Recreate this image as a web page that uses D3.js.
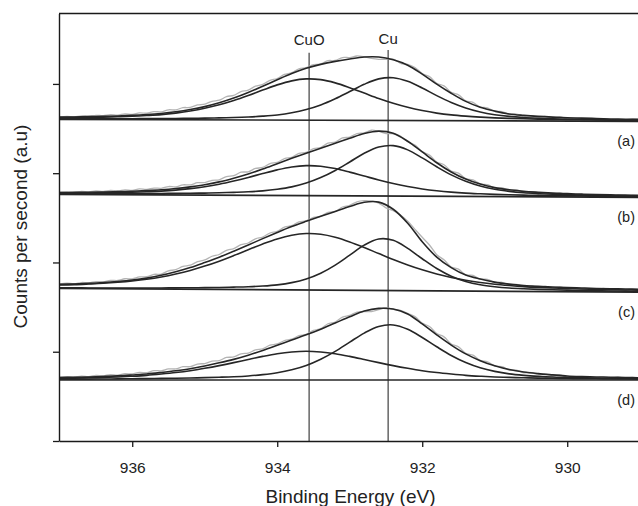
<!DOCTYPE html>
<html><head><meta charset="utf-8">
<script src="https://cdn.jsdelivr.net/npm/d3@7"></script>
<style>
body{margin:0;background:#fff;}
svg{display:block;font-family:"Liberation Sans",Arial,Helvetica,sans-serif;}
</style>
</head><body>
<svg id="chart" width="638" height="506"></svg>
<script>
// ---------- DATA ----------
// Binding energy grid (eV) for the fitted curves
const energy = [937.0,936.8,936.6,936.4,936.2,936.0,935.8,935.6,935.4,935.2,935.0,934.8,934.6,934.4,934.2,934.0,933.8,933.6,933.4,933.2,933.0,932.8,932.6,932.4,932.2,932.0,931.8,931.6,931.4,931.2,931.0,930.8,930.6,930.4,930.2,930.0,929.8,929.6,929.4,929.2,929.0];
// Binding energy grid (eV) for the raw (grey) spectra
const rawEnergy = [937.0,936.9,936.8,936.7,936.6,936.5,936.4,936.3,936.2,936.1,936.0,935.9,935.8,935.7,935.6,935.5,935.4,935.3,935.2,935.1,935.0,934.9,934.8,934.7,934.6,934.5,934.4,934.3,934.2,934.1,934.0,933.9,933.8,933.7,933.6,933.5,933.4,933.3,933.2,933.1,933.0,932.9,932.8,932.7,932.6,932.5,932.4,932.3,932.2,932.1,932.0,931.9,931.8,931.7,931.6,931.5,931.4,931.3,931.2,931.1,931.0,930.9,930.8,930.7,930.6,930.5,930.4,930.3,930.2,930.1,930.0,929.9,929.8,929.7,929.6,929.5,929.4,929.3,929.2,929.1,929.0];

const panelLabels = ["(a)","(b)","(c)","(d)"];
// background (baseline) level of each spectrum at 937 eV and at 929 eV (counts, a.u.)
const bgStart = [324.3, 248.7, 153.9, 61.5];
const bgEnd   = [322.3, 245.7, 150.0, 61.5];

// Component / envelope heights above the background (counts, a.u.)
const cuoA = [1.6,1.8,2.1,2.4,2.8,3.3,4.1,5.1,6.7,8.8,11.6,15.2,19.6,24.7,30.2,35.5,39.6,41.6,40.9,37.7,32.9,27.5,22.1,17.3,13.3,10.1,7.6,5.8,4.6,3.7,3.0,2.5,2.2,1.9,1.7,1.5,1.4,1.3,1.1,1.0,1.0];
const cuA  = [0.6,0.6,0.7,0.8,0.8,0.9,1.0,1.2,1.3,1.5,1.7,2.0,2.4,3.0,3.9,5.2,7.4,10.7,15.4,21.7,29.0,36.4,41.9,43.1,39.5,32.8,25.2,18.4,12.9,8.9,6.2,4.5,3.4,2.7,2.2,1.9,1.6,1.4,1.2,1.1,1.0];
const envA = [2.2,2.4,2.8,3.2,3.6,4.2,5.1,6.3,8.0,10.3,13.3,17.2,22.0,27.7,34.1,40.7,47.0,52.3,56.3,59.4,61.9,63.9,64.0,61.2,55.8,46.9,36.8,27.6,19.5,13.6,9.8,7.0,5.6,4.6,3.9,3.4,3.0,2.7,2.3,2.1,2.0];
const rawA = [2.5,3.1,2.6,3.6,3.3,4.2,3.8,4.9,4.5,5.7,5.3,6.7,6.5,8.1,7.9,10.0,9.9,12.2,12.5,15.0,15.8,18.7,19.8,23.4,24.8,28.5,30.1,34.1,35.9,40.0,41.9,46.1,47.8,51.7,52.9,56.1,56.7,60.1,60.3,63.3,63.3,64.9,64.1,62.5,61.6,61.6,61.8,57.7,56.6,53.4,47.4,44.3,37.6,35.0,28.6,26.1,20.1,18.6,13.8,13.1,9.6,9.4,6.6,6.9,5.0,5.4,3.8,4.5,3.0,4.1,2.2,2.9,1.4,2.4,1.7,2.6,1.5,2.5,1.6,2.3,1.7];

const cuoB = [1.2,1.3,1.5,1.7,2.0,2.4,3.0,3.7,4.8,6.4,8.4,11.0,14.3,18.0,22.0,25.8,28.8,30.2,29.7,27.4,23.9,20.0,16.1,12.6,9.7,7.3,5.5,4.2,3.3,2.7,2.2,1.9,1.6,1.4,1.2,1.1,1.0,0.9,0.8,0.8,0.7];
const cuB  = [0.7,0.7,0.8,0.9,1.0,1.1,1.2,1.4,1.6,1.8,2.0,2.4,2.9,3.5,4.5,6.2,8.7,12.6,18.2,25.5,34.1,42.9,49.3,50.8,46.6,38.6,29.7,21.6,15.2,10.5,7.3,5.3,4.0,3.2,2.6,2.2,1.9,1.7,1.5,1.3,1.2];
const envB = [1.9,2.0,2.3,2.6,3.0,3.5,4.2,5.1,6.4,8.2,10.4,13.4,17.2,21.5,26.5,32.0,37.5,42.8,47.9,52.9,58.0,62.9,65.4,63.4,55.3,44.6,33.8,24.6,17.5,12.5,9.0,6.9,5.4,4.5,3.8,3.3,2.9,2.6,2.3,2.1,1.9];
const rawB = [2.1,2.6,2.1,3.1,2.7,3.6,3.1,4.1,3.7,4.9,4.4,5.8,5.4,6.8,6.6,8.4,8.1,10.2,10.2,12.4,12.6,14.9,15.5,18.8,19.7,23.2,23.7,27.1,28.1,32.1,33.4,37.2,38.5,42.4,43.5,47.4,48.5,52.9,54.0,58.3,59.2,62.8,63.4,66.2,65.1,62.9,62.8,60.5,54.8,51.6,44.9,41.4,34.4,31.8,25.5,23.4,17.9,16.8,12.6,12.0,8.7,8.9,6.4,6.7,4.7,5.2,3.6,4.3,2.8,3.9,2.0,2.9,1.2,2.2,1.5,2.5,1.4,2.4,1.5,2.1,1.5];

const cuoC = [3.5,3.9,4.6,5.4,6.5,7.9,9.7,12.1,15.2,18.9,23.4,28.5,34.2,40.2,46.1,51.3,55.1,56.9,56.3,53.4,48.8,43.2,37.2,31.3,25.9,21.1,17.0,13.6,10.9,8.7,7.1,5.9,4.9,4.2,3.7,3.2,2.9,2.6,2.4,2.2,2.0];
const cuC  = [0.5,0.6,0.6,0.7,0.8,0.9,1.0,1.1,1.3,1.5,1.7,2.0,2.4,2.9,3.7,5.0,7.3,11.1,17.0,25.3,35.4,45.6,51.9,50.7,42.7,32.3,22.5,14.9,9.7,6.5,4.6,3.4,2.7,2.2,1.9,1.6,1.4,1.2,1.1,1.0,0.9];
const envC = [4.0,4.5,5.2,6.1,7.3,8.8,10.9,13.8,17.5,21.8,27.0,32.5,38.6,45.0,51.5,57.8,63.8,69.2,74.4,79.4,84.4,88.8,89.1,82.0,68.0,49.4,34.0,23.5,16.1,12.2,9.2,7.3,6.0,5.2,4.7,4.2,3.9,3.5,3.3,3.1,2.9];
const rawC = [4.4,5.2,4.8,6.0,5.8,7.1,6.9,8.4,8.3,10.1,10.1,12.0,12.3,14.7,15.0,18.4,19.6,23.0,24.2,27.9,29.6,33.4,35.2,39.5,41.2,45.2,47.0,51.3,53.0,57.2,58.9,63.2,64.7,68.6,69.7,73.2,74.4,78.4,79.4,83.9,85.7,89.3,90.4,90.1,88.1,83.4,80.5,76.3,70.0,61.9,53.9,46.2,36.5,31.3,24.2,22.0,16.4,15.9,12.2,12.0,8.8,9.1,6.7,7.1,5.2,5.8,4.2,5.2,3.6,4.8,2.8,3.8,2.4,3.3,2.3,3.5,2.4,3.4,2.5,3.1,2.6];

const cuoD = [1.7,1.9,2.2,2.6,3.1,3.8,4.7,6.0,7.5,9.4,11.8,14.5,17.5,20.7,23.8,26.5,28.3,29.0,28.3,26.5,23.8,20.7,17.5,14.5,11.8,9.4,7.5,6.0,4.7,3.8,3.1,2.6,2.2,1.9,1.7,1.5,1.3,1.2,1.1,1.0,0.9];
const cuD  = [0.8,0.9,0.9,1.0,1.1,1.3,1.4,1.6,1.8,2.0,2.4,2.8,3.3,4.1,5.4,7.3,10.3,14.7,21.0,28.9,38.2,47.3,54.0,55.5,51.1,42.9,33.5,24.7,17.6,12.3,8.7,6.2,4.7,3.7,3.0,2.6,2.2,1.9,1.7,1.5,1.3];
const envD = [2.5,2.8,3.1,3.6,4.2,5.1,6.1,7.6,9.3,11.4,14.2,17.3,20.8,25.0,29.8,35.0,40.3,45.5,51.2,57.5,63.8,69.5,72.2,71.5,66.5,56.5,45.5,35.2,26.3,19.5,14.3,10.5,8.0,6.4,5.2,4.1,3.5,3.1,2.8,2.5,2.2];
const rawD = [2.8,3.4,3.0,4.0,3.5,4.6,4.3,5.5,5.0,6.4,6.1,7.7,7.4,9.4,9.3,11.2,11.2,13.4,13.5,16.1,16.6,19.0,19.6,22.7,23.2,26.4,27.1,30.4,31.5,35.1,36.3,39.8,41.1,44.7,45.9,50.0,51.7,56.7,58.5,63.4,65.2,68.5,68.9,69.0,71.0,72.9,71.1,70.3,67.1,63.9,57.4,53.9,46.8,43.5,36.3,33.4,26.8,25.0,19.7,18.4,14.1,13.5,10.0,9.9,7.3,7.5,5.5,5.9,4.2,5.0,2.9,3.4,1.9,2.8,2.0,3.1,2.0,2.9,1.9,2.5,1.8];

// Reference lines (peak positions, eV) and their labels
const refEnergy = [933.56, 932.47];
const refLabels = ["CuO", "Cu"];
// Axes
const xTicks = [936, 934, 932, 930];
const yTicks = [0, 90, 180, 270, 360];
const xTitle = "Binding Energy (eV)";
const yTitle = "Counts per second (a.u)";

// ---------- LAYOUT ----------
const W = 638, H = 506;
const plotL = 59, plotR = 639, plotT = 13.5, plotB = 441;
const svg = d3.select("#chart");

const x = d3.scaleLinear().domain([937.01, 929.01]).range([plotL, plotR]);
const y = d3.scaleLinear().domain([0, 431]).range([plotB, plotT]);

svg.append("defs").append("clipPath").attr("id","clip")
  .append("rect").attr("x", plotL).attr("y", plotT).attr("width", W - plotL).attr("height", plotB - plotT);

const plot = svg.append("g").attr("clip-path","url(#clip)");

// reference vertical lines
const refTopPx = [52.7, 50];
const refLabelY = [45, 43.5];
refEnergy.forEach((e, i) => {
  plot.append("line")
    .attr("x1", x(e)).attr("x2", x(e))
    .attr("y1", refTopPx[i]).attr("y2", plotB)
    .attr("stroke", "#5a5a5a").attr("stroke-width", 1.4);
  svg.append("text")
    .attr("x", x(e)).attr("y", refLabelY[i])
    .attr("text-anchor", "middle")
    .attr("font-size", 15).attr("fill", "#222")
    .text(refLabels[i]);
});

const series = [
  {cuo: cuoA, cu: cuA, env: envA, raw: rawA},
  {cuo: cuoB, cu: cuB, env: envB, raw: rawB},
  {cuo: cuoC, cu: cuC, env: envC, raw: rawC},
  {cuo: cuoD, cu: cuD, env: envD, raw: rawD}
];

series.forEach((s, i) => {
  const bg = d3.scaleLinear().domain([937.0, 929.0]).range([bgStart[i], bgEnd[i]]);
  const line = d3.line()
    .x(d => x(d[0]))
    .y(d => y(bg(d[0]) + d[1]))
    .curve(d3.curveCatmullRom.alpha(0.5));

  // raw data (grey)
  plot.append("path")
    .datum(d3.zip(rawEnergy, s.raw))
    .attr("d", line)
    .attr("fill", "none").attr("stroke", "#b4b4b4").attr("stroke-width", 1.3);

  // background line
  plot.append("path")
    .datum([[energy[0], 0], [energy[energy.length - 1], 0]])
    .attr("d", d3.line().x(d => x(d[0])).y(d => y(bg(d[0]) + d[1])))
    .attr("fill", "none").attr("stroke", "#262626").attr("stroke-width", 1.7);

  [s.cuo, s.cu, s.env].forEach(arr => {
    plot.append("path")
      .datum(d3.zip(energy, arr))
      .attr("d", line)
      .attr("fill", "none").attr("stroke", "#262626").attr("stroke-width", 1.6);
  });

  // panel label
  svg.append("text")
    .attr("x", 635).attr("y", y(bgEnd[i]) + 25)
    .attr("text-anchor", "end")
    .attr("font-size", 14.5).attr("fill", "#222")
    .text(panelLabels[i]);
});

// top frame line
svg.append("line")
  .attr("x1", plotL).attr("x2", W).attr("y1", plotT).attr("y2", plotT)
  .attr("stroke", "#1a1a1a").attr("stroke-width", 1.4);

// left axis
const yAxis = svg.append("g")
  .attr("transform", `translate(${plotL},0)`)
  .call(d3.axisLeft(y).tickValues(yTicks).tickFormat("").tickSize(6).tickSizeOuter(0));
yAxis.select(".domain").attr("stroke", "#1a1a1a").attr("stroke-width", 1.4);
yAxis.selectAll(".tick line").attr("stroke", "#1a1a1a").attr("stroke-width", 1.3);

// bottom axis
const xAxis = svg.append("g")
  .attr("transform", `translate(0,${plotB})`)
  .call(d3.axisBottom(x).tickValues(xTicks).tickFormat(d3.format("d")).tickSize(6).tickSizeOuter(0).tickPadding(14.5));
xAxis.select(".domain").attr("stroke", "#1a1a1a").attr("stroke-width", 1.4);
xAxis.selectAll(".tick line").attr("stroke", "#1a1a1a").attr("stroke-width", 1.3);
xAxis.selectAll(".tick text")
  .attr("font-size", 15.5).attr("fill", "#222")
  .attr("font-family", "'Liberation Sans',Arial,Helvetica,sans-serif");

// axis titles
svg.append("text")
  .attr("x", 350.5).attr("y", 503)
  .attr("text-anchor", "middle")
  .attr("font-size", 19).attr("fill", "#222")
  .text(xTitle);

svg.append("text")
  .attr("transform", "translate(26.5,226.5) rotate(-90)")
  .attr("text-anchor", "middle")
  .attr("font-size", 19).attr("fill", "#222")
  .text(yTitle);
</script>
</body></html>
